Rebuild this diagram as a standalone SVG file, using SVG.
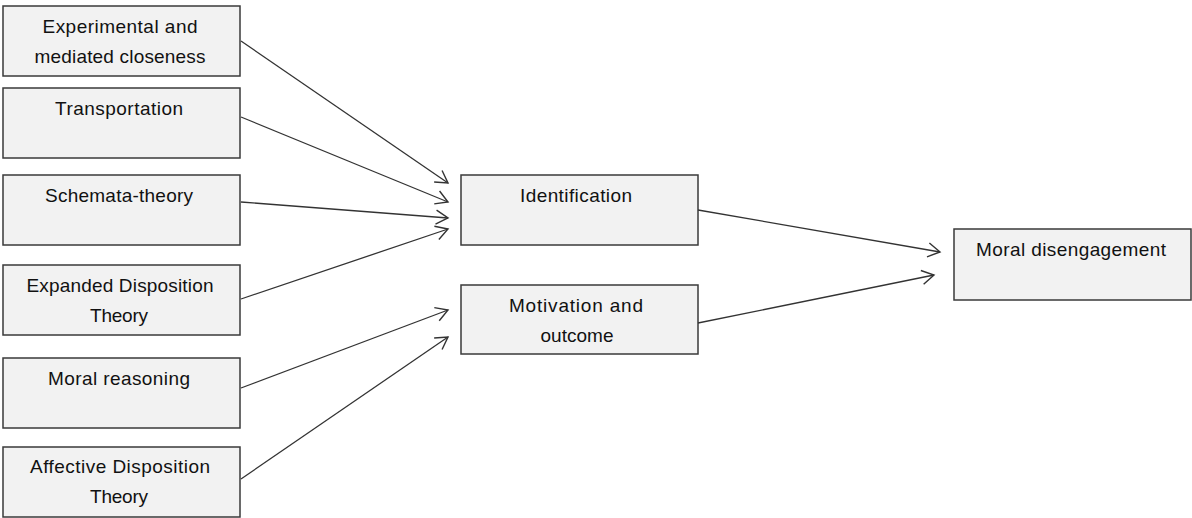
<svg xmlns="http://www.w3.org/2000/svg" width="1192" height="518" viewBox="0 0 1192 518">
<style>
.box{fill:#f2f2f2;stroke:#3a3a3a;stroke-width:1.5}
.t{font-family:"Liberation Sans",Arial,sans-serif;font-size:19px;fill:#111;text-anchor:middle}
.c{stroke:#333;stroke-width:1.3;fill:none;marker-end:url(#ah)}
</style>
<defs>
<marker id="ah" markerUnits="userSpaceOnUse" markerWidth="20" markerHeight="20" refX="14" refY="8" orient="auto">
<path d="M2,1 L14,8 L2,15" fill="none" stroke="#333" stroke-width="1.4"/>
</marker>
</defs>
<rect width="1192" height="518" fill="#fff"/>
<g id="n1"><rect class="box" x="3" y="6" width="237" height="70"/>
<text class="t" x="120" y="33" textLength="155" lengthAdjust="spacing">Experimental and</text>
<text class="t" x="120" y="63" textLength="171" lengthAdjust="spacing">mediated closeness</text></g>
<g id="n2"><rect class="box" x="3" y="88" width="237" height="70"/>
<text class="t" x="119" y="115" textLength="128" lengthAdjust="spacing">Transportation</text></g>
<g id="n3"><rect class="box" x="3" y="175" width="237" height="70"/>
<text class="t" x="119" y="202" textLength="148" lengthAdjust="spacing">Schemata-theory</text></g>
<g id="n4"><rect class="box" x="3" y="265" width="237" height="70"/>
<text class="t" x="120" y="292" textLength="187" lengthAdjust="spacing">Expanded Disposition</text>
<text class="t" x="119" y="322" textLength="58" lengthAdjust="spacing">Theory</text></g>
<g id="n5"><rect class="box" x="3" y="358" width="237" height="70"/>
<text class="t" x="119" y="385" textLength="142" lengthAdjust="spacing">Moral reasoning</text></g>
<g id="n6"><rect class="box" x="3" y="447" width="237" height="70"/>
<text class="t" x="120" y="473" textLength="180" lengthAdjust="spacing">Affective Disposition</text>
<text class="t" x="119" y="503" textLength="58" lengthAdjust="spacing">Theory</text></g>
<g id="n7"><rect class="box" x="461" y="175" width="237" height="70"/>
<text class="t" x="576" y="202" textLength="112" lengthAdjust="spacing">Identification</text></g>
<g id="n8"><rect class="box" x="461" y="285" width="237" height="69"/>
<text class="t" x="576" y="312" textLength="134" lengthAdjust="spacing">Motivation and</text>
<text class="t" x="577" y="342" textLength="73" lengthAdjust="spacing">outcome</text></g>
<g id="n9"><rect class="box" x="954" y="229" width="237" height="71"/>
<text class="t" x="1071" y="256" textLength="190" lengthAdjust="spacing">Moral disengagement</text></g>
<g id="connectors">
<line class="c" x1="241" y1="41" x2="448" y2="183"/>
<line class="c" x1="241" y1="117" x2="448" y2="202"/>
<line class="c" x1="241" y1="202" x2="448" y2="218"/>
<line class="c" x1="241" y1="299" x2="448" y2="229"/>
<line class="c" x1="241" y1="388" x2="448" y2="310"/>
<line class="c" x1="241" y1="479" x2="448" y2="337"/>
<line class="c" x1="698" y1="210" x2="940" y2="252"/>
<line class="c" x1="698" y1="323" x2="934" y2="275"/>
</g>
</svg>
